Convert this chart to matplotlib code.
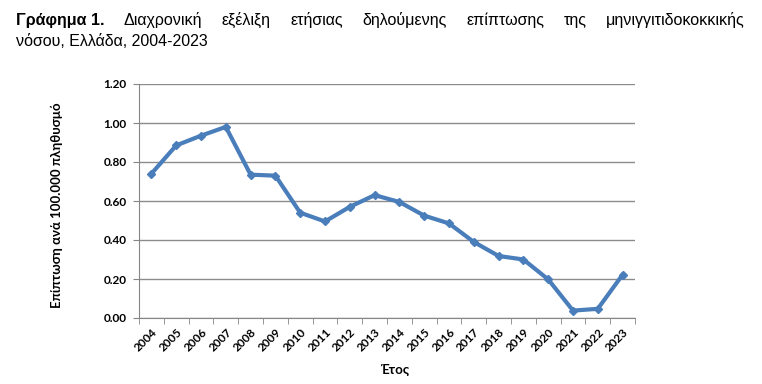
import numpy as np
import matplotlib
matplotlib.use('Agg')
from matplotlib import pyplot as plt

years = [str(y) for y in range(2004, 2024)]
incidence = [0.74, 0.885, 0.935, 0.98, 0.735, 0.73, 0.54, 0.495, 0.57, 0.63,
             0.595, 0.525, 0.485, 0.39, 0.318, 0.30, 0.198, 0.038, 0.047, 0.222]
yticks = [0.0, 0.2, 0.4, 0.6, 0.8, 1.0, 1.2]

title_bold = 'Γράφημα 1.'
title_line1 = 'Διαχρονική εξέλιξη ετήσιας δηλούμενης επίπτωσης της μηνιγγιτιδοκοκκικής'
title_line2 = 'νόσου, Ελλάδα, 2004-2023'

W, H = 762, 384
fig = plt.figure(figsize=(W / 100, H / 100), dpi=100)
ax = fig.add_axes([139 / W, 1 - 318 / H, (635 - 139) / W, (318 - 84) / H])

x = np.arange(len(years))
ax.plot(x, incidence, color='#4A7EBB', lw=3, marker='D', ms=4.5, zorder=3)

ax.set_xlim(-0.5, len(years) - 0.5)
ax.set_ylim(0, 1.2)
ax.set_yticks(yticks)
ax.set_yticklabels(['%.2f' % v for v in yticks], family='Lato', fontweight='bold', fontsize=8.5)
ax.set_xticks(x)
ax.set_xticklabels(years, rotation=45, ha='right', rotation_mode='anchor',
                   family='Lato', fontweight='bold', fontsize=8.5)
ax.tick_params(axis='x', length=0, pad=6)
ax.set_xticks(np.arange(-0.5, len(years), 1), minor=True)
ax.tick_params(axis='x', which='minor', length=4, color='#868686', direction='out')
ax.tick_params(axis='y', length=4, color='#868686', direction='out', pad=5)
ax.grid(axis='y', color='#8c8c8c', lw=1)
ax.set_axisbelow(True)
for s in ['top', 'right']:
    ax.spines[s].set_visible(False)
for s in ['left', 'bottom']:
    ax.spines[s].set_color('#868686')

fig.text(57 / W, 1 - 205 / H, 'Επίπτωση ανά 100.000 πληθυσμό', rotation=90,
         ha='center', va='center', family='Lato', fontweight='bold', fontsize=9.5)
fig.text(395 / W, 1 - 370 / H, 'Έτος', ha='center', va='center',
         family='Lato', fontweight='bold', fontsize=9.5)

# justified title, first line
fs = 11.5
left, right = 16, 745
words = [(title_bold, 'bold')] + [(w, 'normal') for w in title_line1.split()]
renderer = fig.canvas.get_renderer()
texts = []
for w, wt in words:
    t = fig.text(0, 1 - 20 / H, w, family='Liberation Sans', fontweight=wt,
                 fontsize=fs, va='center', ha='left')
    texts.append(t)
widths = [t.get_window_extent(renderer).width for t in texts]
gap = (right - left - sum(widths)) / (len(texts) - 1)
xpos = left
for t, wd in zip(texts, widths):
    t.set_x(xpos / W)
    xpos += wd + gap
fig.text(left / W, 1 - 42 / H, title_line2, family='Liberation Sans',
         fontsize=fs, va='center', ha='left')

fig.savefig('out.png', dpi=100)
